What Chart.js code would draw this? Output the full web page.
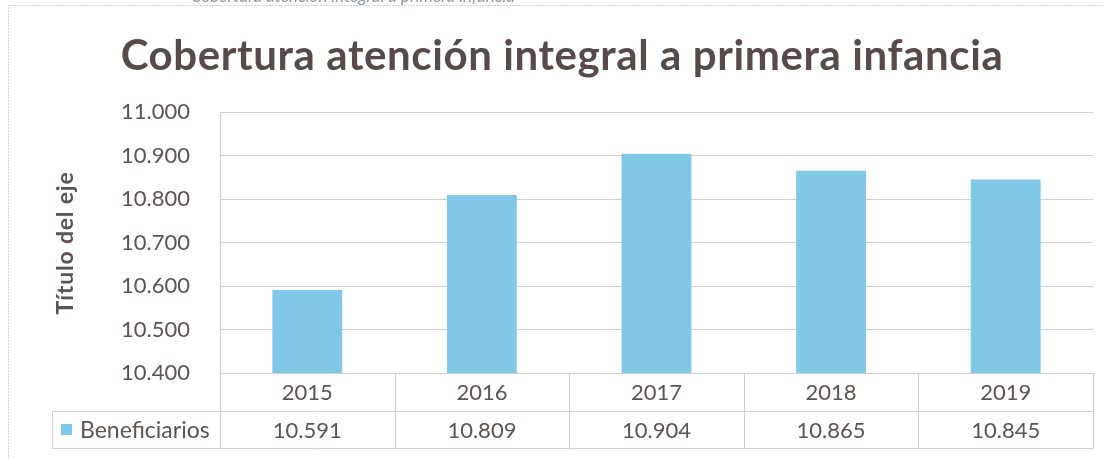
<!DOCTYPE html>
<html>
<head>
<meta charset="utf-8">
<script src="https://cdn.jsdelivr.net/npm/chart.js@4"></script>
<style>
  body { margin: 0; background: #fff; }
  #caja { position: relative; width: 1104px; height: 459px; overflow: hidden; }
  #leyenda-sup { position: absolute; top: -15px; left: 150px; width: 365px; text-align: right;
    font: italic 17px Lato, sans-serif; color: #9097a0; white-space: nowrap; }
</style>
</head>
<body>
<div id="caja">
  <canvas id="grafico" width="1104" height="459"></canvas>
  <div id="leyenda-sup">Cobertura atención integral a primera infancia</div>
</div>
<script>
// Datos del grafico
const anios = ["2015", "2016", "2017", "2018", "2019"];
const beneficiarios = [10591, 10809, 10904, 10865, 10845];
const serie = "Beneficiarios";
const titulo = "Cobertura atención integral a primera infancia";
const tituloEje = "Título del eje";

const azul = "#80c8e8";
const gris = "#cfcfcf";
const texto = "#5e5353";

// formato 10.400
function miles(v) {
  return Math.floor(v / 1000) + "." + String(Math.round(v) % 1000).padStart(3, "0");
}

// Dibujo titulo, marco, titulo del eje y la tabla de datos
const extras = {
  id: "extras",
  beforeDraw(chart) {
    const ctx = chart.ctx;
    ctx.save();
    ctx.fillStyle = "#fff";
    ctx.fillRect(0, 0, chart.width, chart.height);
    ctx.strokeStyle = "#d4d4d4";
    ctx.lineWidth = 1;
    ctx.setLineDash([2, 1]);
    ctx.beginPath();
    ctx.moveTo(8.5, 459);
    ctx.lineTo(8.5, 5.5);
    ctx.lineTo(1104, 5.5);
    ctx.stroke();
    ctx.restore();
  },
  afterDraw(chart) {
    const ctx = chart.ctx;
    const area = chart.chartArea;
    ctx.save();

    // titulo
    ctx.fillStyle = "#574a4a";
    ctx.font = "bold 42px Lato";
    ctx.letterSpacing = "0.6px";
    ctx.textAlign = "center";
    ctx.textBaseline = "alphabetic";
    ctx.fillText(titulo, 562, 70);

    // titulo del eje
    ctx.save();
    ctx.translate(66, 243);
    ctx.rotate(-Math.PI / 2);
    ctx.font = "bold 23px Lato";
    ctx.letterSpacing = "0.8px";
    ctx.fillStyle = texto;
    ctx.textAlign = "center";
    ctx.textBaseline = "middle";
    ctx.fillText(tituloEje, 0, 0);
    ctx.restore();
    ctx.letterSpacing = "0px";

    // tabla
    const n = anios.length;
    const w = (area.right - area.left) / n;
    const y0 = area.bottom;
    const y1 = 411.5;
    const y2 = 448.5;
    const xLey = 52.5;

    ctx.strokeStyle = gris;
    ctx.lineWidth = 1;
    ctx.beginPath();
    ctx.moveTo(area.left, Math.round(y0) + 0.5);
    ctx.lineTo(area.right, Math.round(y0) + 0.5);
    ctx.moveTo(xLey, y1);
    ctx.lineTo(area.right, y1);
    ctx.moveTo(xLey, y2);
    ctx.lineTo(area.right, y2);
    ctx.moveTo(xLey, y1);
    ctx.lineTo(xLey, y2);
    for (let i = 0; i <= n; i++) {
      const x = Math.round(area.left + i * w) + 0.5;
      ctx.moveTo(x, y0);
      ctx.lineTo(x, y2);
    }
    ctx.stroke();

    ctx.fillStyle = texto;
    ctx.font = "22px Lato";
    ctx.textAlign = "center";
    ctx.textBaseline = "middle";
    for (let i = 0; i < n; i++) {
      const xc = chart.scales.x.getPixelForValue(i);
      ctx.fillText(anios[i], xc, (y0 + y1) / 2 + 1);
      ctx.fillText(miles(beneficiarios[i]), xc, (y1 + y2) / 2 + 1);
    }

    // leyenda en la tabla
    ctx.fillStyle = azul;
    ctx.fillRect(61, 424, 11, 11);
    ctx.fillStyle = texto;
    ctx.font = "23px Lato";
    ctx.textAlign = "left";
    ctx.fillText(serie, 80, (y1 + y2) / 2 + 1);

    ctx.restore();
  }
};

const ctx = document.getElementById("grafico");

const chart = new Chart(ctx, {
  type: "bar",
  data: {
    labels: anios,
    datasets: [
      {
        label: serie,
        data: beneficiarios,
        backgroundColor: azul,
        borderWidth: 0,
        categoryPercentage: 1,
        barPercentage: 0.4,
      },
    ],
  },
  options: {
    responsive: false,
    animation: false,
    layout: {
      padding: { left: 0, right: 11, top: 112, bottom: 86 },
    },
    plugins: {
      legend: { display: false },
      tooltip: { enabled: false },
    },
    scales: {
      x: {
        display: false,
      },
      y: {
        min: 10400,
        max: 11000,
        afterFit: (s) => { s.width = 220; },
        ticks: {
          stepSize: 100,
          padding: 30,
          color: texto,
          font: { family: "Lato", size: 22 },
          callback: (v) => miles(v),
        },
        grid: { color: gris, drawTicks: false },
        border: { color: gris },
      },
    },
  },
  plugins: [extras],
});
</script>
</body>
</html>
